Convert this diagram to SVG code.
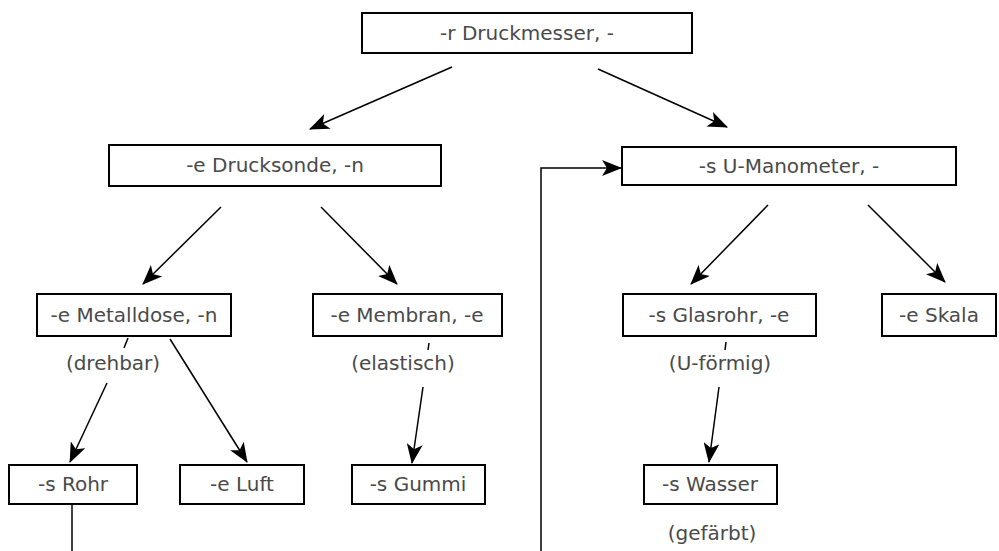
<svg xmlns="http://www.w3.org/2000/svg" width="999" height="551" viewBox="0 0 999 551">
<style>
.box{fill:#fff;stroke:#000;stroke-width:2}
.t{font-family:"DejaVu Sans","Liberation Sans",sans-serif;font-size:20px;fill:#4a4a4a;text-anchor:middle}
.c{stroke:#000;stroke-width:1.5;fill:none}
.a{marker-end:url(#ah)}
</style>
<defs>
<marker id="ah" markerUnits="userSpaceOnUse" markerWidth="20" markerHeight="16" refX="19" refY="8" orient="auto">
<path d="M0,0 L20,8 L0,16 L5,8 z" fill="#000"/>
</marker>
</defs>
<rect width="999" height="551" fill="#fff"/>
<g id="connectors">
<line class="c a" x1="452" y1="67" x2="310" y2="129"/>
<line class="c a" x1="598" y1="69" x2="727" y2="127"/>
<line class="c a" x1="221" y1="207" x2="143" y2="284"/>
<line class="c a" x1="321" y1="207" x2="397" y2="284"/>
<line class="c a" x1="768" y1="205" x2="691" y2="284"/>
<line class="c a" x1="868" y1="205" x2="945" y2="282"/>
<line class="c" x1="128" y1="338" x2="124" y2="348"/>
<line class="c a" x1="107" y1="383" x2="70" y2="462"/>
<line class="c a" x1="170" y1="339" x2="247" y2="462"/>
<line class="c" x1="429" y1="343" x2="428" y2="350"/>
<line class="c a" x1="423" y1="387" x2="412" y2="463"/>
<line class="c" x1="726" y1="342" x2="725" y2="350"/>
<line class="c a" x1="719" y1="387" x2="709" y2="462"/>
<line class="c" x1="72" y1="504" x2="72" y2="551" stroke-width="2"/>
<polyline class="c a" points="541,551 541,168 621,168" stroke-width="2"/>
</g>
<g id="n-druckmesser"><rect class="box" x="362" y="13" width="330" height="40"/><text class="t" x="527" y="40">-r Druckmesser, -</text></g>
<g id="n-drucksonde"><rect class="box" x="109" y="145" width="332" height="41"/><text class="t" x="275" y="172">-e Drucksonde, -n</text></g>
<g id="n-umanometer"><rect class="box" x="622" y="147" width="334" height="38"/><text class="t" x="789" y="173">-s U-Manometer, -</text></g>
<g id="n-metalldose"><rect class="box" x="37" y="294" width="194" height="42"/><text class="t" x="134" y="322">-e Metalldose, -n</text></g>
<g id="n-membran"><rect class="box" x="313" y="294" width="189" height="42"/><text class="t" x="407" y="322">-e Membran, -e</text></g>
<g id="n-glasrohr"><rect class="box" x="623" y="294" width="193" height="42"/><text class="t" x="719" y="322">-s Glasrohr, -e</text></g>
<g id="n-skala"><rect class="box" x="882" y="294" width="114" height="42"/><text class="t" x="939" y="322">-e Skala</text></g>
<g id="n-rohr"><rect class="box" x="9" y="465" width="128" height="39"/><text class="t" x="73" y="491">-s Rohr</text></g>
<g id="n-luft"><rect class="box" x="180" y="465" width="124" height="39"/><text class="t" x="242" y="491">-e Luft</text></g>
<g id="n-gummi"><rect class="box" x="352" y="465" width="133" height="39"/><text class="t" x="418" y="491">-s Gummi</text></g>
<g id="n-wasser"><rect class="box" x="644" y="465" width="133" height="39"/><text class="t" x="710" y="491">-s Wasser</text></g>
<g id="labels">
<text class="t" x="113" y="370">(drehbar)</text>
<text class="t" x="403" y="370">(elastisch)</text>
<text class="t" x="720" y="370">(U-förmig)</text>
<text class="t" x="712" y="540">(gefärbt)</text>
</g>
</svg>
